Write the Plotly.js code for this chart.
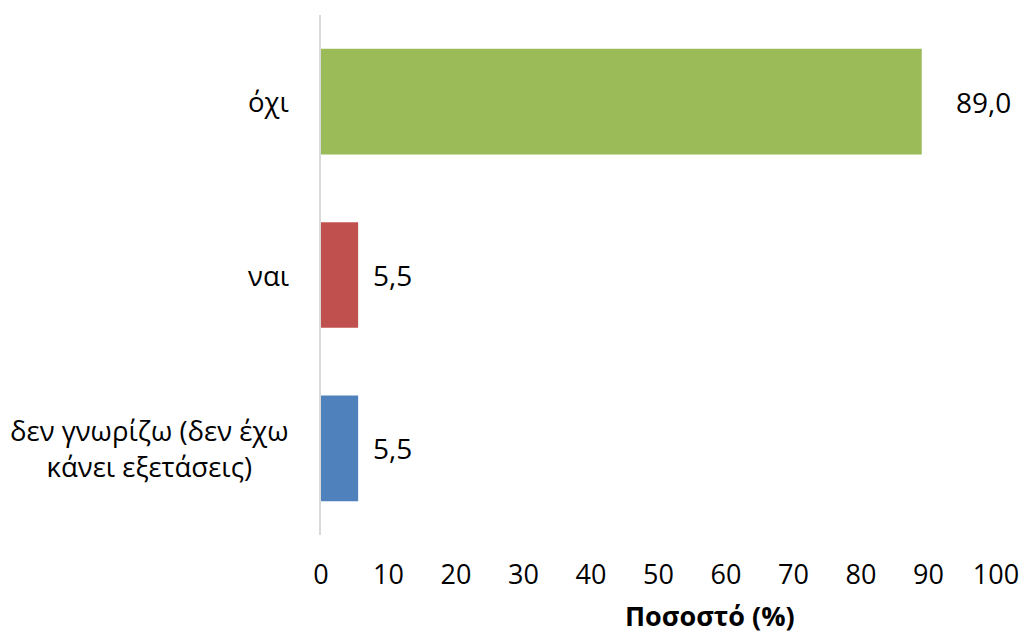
<!DOCTYPE html>
<html>
<head>
<meta charset="utf-8">
<script src="https://cdn.plot.ly/plotly-3.0.1.min.js"></script>
<style>html,body{margin:0;padding:0;background:#fff;}#chart{width:1024px;height:635px;}</style>
</head>
<body>
<div id="chart"></div>
<script>
const categories = ["δεν γνωρίζω (δεν έχω<br>κάνει εξετάσεις)", "ναι", "όχι"];
const values = [5.5, 5.5, 89.0];
const barColors = ["#4F81BD", "#C0504D", "#9BBB59"];
const xTicks = [0, 10, 20, 30, 40, 50, 60, 70, 80, 90, 100];
const xTitle = "Ποσοστό (%)";
const labelGaps = [16, 16, 35];   // styling: px gap between bar end and value label

const FONT = "Open Sans, Noto Sans, sans-serif";
const FS = 28;

const trace = {
  type: "bar",
  orientation: "h",
  x: values,
  y: categories,
  marker: { color: barColors },
  hoverinfo: "none"
};

const annotations = [];
categories.forEach((c, i) => {
  annotations.push({
    xref: "paper", yref: "y", x: 0, y: c,
    xanchor: "right", yanchor: "middle", xshift: -30,
    text: c, align: "center", showarrow: false,
    font: { family: FONT, size: 27.5, color: "#000" }
  });
  annotations.push({
    xref: "x", yref: "y", x: values[i], y: c,
    xanchor: "left", yanchor: "middle", xshift: labelGaps[i] - 3,
    text: values[i].toFixed(1).replace(".", ","), showarrow: false,
    font: { family: FONT, size: FS, color: "#000" }
  });
});
annotations.push({
  xref: "paper", yref: "paper", x: 0.577, y: -0.154,
  xanchor: "center", yanchor: "middle",
  text: "<b>" + xTitle + "</b>", showarrow: false,
  font: { family: FONT, size: 27, color: "#000" }
});

const layout = {
  width: 1024, height: 635,
  margin: { l: 321, r: 28, t: 15, b: 100, pad: 0 },
  paper_bgcolor: "#fff", plot_bgcolor: "#fff",
  showlegend: false,
  bargap: 0.39,
  font: { family: FONT, size: FS, color: "#000" },
  xaxis: {
    range: [0, 100],
    tickvals: xTicks,
    ticktext: xTicks.map(String),
    showgrid: false, zeroline: false, showline: false,
    ticks: "", ticklabelstandoff: 21,
    tickfont: { family: FONT, size: 27, color: "#000" },
    fixedrange: true
  },
  yaxis: {
    type: "category",
    categoryorder: "array", categoryarray: categories,
    range: [-0.5, 2.5],
    showgrid: false, zeroline: false,
    showline: true, linecolor: "#d9d9d9", linewidth: 2,
    showticklabels: false, ticks: "",
    fixedrange: true
  },
  annotations: annotations
};

Plotly.newPlot("chart", [trace], layout, { displayModeBar: false, staticPlot: true });
</script>
</body>
</html>
